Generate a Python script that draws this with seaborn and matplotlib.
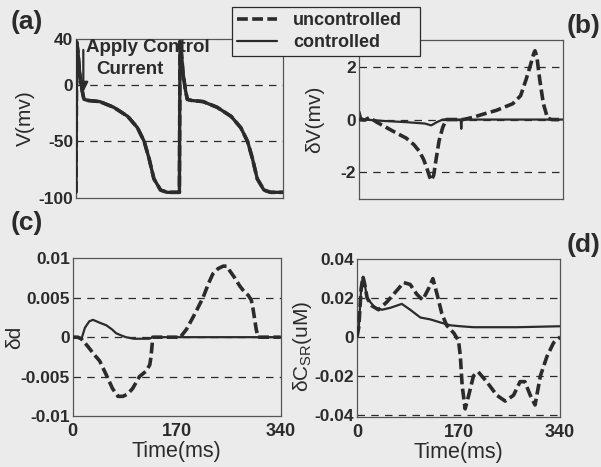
import numpy as np
import pandas as pd
import matplotlib
matplotlib.use('Agg')
import matplotlib.pyplot as plt
import seaborn as sns
from matplotlib.lines import Line2D

# ---- data ----
# (a) action potential, uncontrolled and controlled overlap
t_ap = [0, 1, 3, 6, 10, 13, 20, 39, 62, 85, 101, 112, 120, 128, 139, 150, 169,
        170, 171, 173, 176, 180, 183, 190, 209, 232, 255, 271, 282, 290, 298, 309, 320, 340]
v_ap = [-95, 38, 30, 10, -5, -13, -14, -15, -20, -28, -38, -50, -65, -83, -93, -95, -95,
        -95, 38, 30, 10, -5, -13, -14, -15, -20, -28, -38, -50, -65, -83, -93, -95, -95]

# (b) delta V
t_b_unc = [0, 10, 18, 30, 46, 62, 79, 92, 101, 108, 113, 118, 121, 125, 129, 134, 140, 146,
           160, 174, 190, 207, 230, 257, 270, 279, 287, 292, 294, 297, 302, 308, 315, 322, 340]
v_b_unc = [0, -0.02, 0.08, -0.1, -0.3, -0.5, -0.7, -0.95, -1.2, -1.5, -1.8, -2.15, -2.3, -2.1,
           -1.5, -0.8, -0.3, 0, 0, 0, 0.08, 0.2, 0.35, 0.6, 0.9, 1.5, 2.1, 2.5, 2.6, 2.4, 1.5,
           0.6, 0.05, 0, 0]
t_b_con = [0, 1, 4, 10, 40, 80, 110, 121, 130, 140, 170, 171, 172, 200, 340]
v_b_con = [0, 0.3, 0.05, 0, -0.05, -0.1, -0.15, -0.22, -0.1, 0, 0, -0.35, 0, 0, 0]

# (c) delta d
t_c_unc = [0, 8, 14, 25, 35, 44, 55, 65, 74, 82, 90, 98, 109, 120, 126, 128, 131,
           150, 169, 175, 180, 186, 200, 213, 222, 229, 238, 246, 252, 256, 265, 273,
           280, 287, 292, 295, 300, 303, 340]
v_c_unc = [0, 0, -0.0002, -0.0012, -0.0022, -0.003, -0.0048, -0.0065, -0.0075, -0.0075,
           -0.0072, -0.0065, -0.005, -0.0043, -0.0035, -0.0025, 0,
           0, 0, -0.0001, 0.0004, 0.001, 0.003, 0.005, 0.0068, 0.008, 0.0087, 0.009, 0.009,
           0.0085, 0.0075, 0.0065, 0.0058, 0.0053, 0.0047, 0.0035, 0.001, 0, 0]
t_c_con = [0, 8, 14, 20, 27, 33, 42, 55, 64, 71, 80, 87, 100, 115, 125, 131, 340]
v_c_con = [0, 0, -0.0003, 0.0012, 0.002, 0.0022, 0.0019, 0.0015, 0.001, 0.0005, 0.0002,
           0, -0.0002, -0.0002, -0.0002, 0, 0]

# (d) delta C_SR
t_d_unc = [0, 3, 7, 10, 13, 17, 25, 36, 50, 67, 78, 89, 100, 110, 120, 127, 134, 142,
           150, 162, 170, 173, 176, 181, 187, 195, 203, 217, 234, 248, 262, 273, 281, 290,
           298, 307, 318, 329, 340]
v_d_unc = [0, 0.005, 0.025, 0.031, 0.027, 0.02, 0.016, 0.014, 0.018, 0.024, 0.028, 0.027,
           0.022, 0.019, 0.025, 0.03, 0.022, 0.012, 0.006, 0.002, -0.002, -0.01, -0.025,
           -0.037, -0.03, -0.02, -0.018, -0.023, -0.03, -0.033, -0.03, -0.023, -0.023,
           -0.03, -0.035, -0.02, -0.01, -0.003, 0]
t_d_con = [0, 3, 7, 10, 13, 17, 30, 42, 56, 75, 89, 106, 123, 139, 156, 173, 195, 268, 340]
v_d_con = [0, 0.005, 0.025, 0.031, 0.027, 0.02, 0.015, 0.014, 0.015, 0.017, 0.014, 0.01,
           0.009, 0.0075, 0.006, 0.0055, 0.005, 0.005, 0.0055]

ylims = [(-100, 40), (-3, 3), (-0.01, 0.01), (-0.0412, 0.04)]
yticks = [[-100, -50, 0, 40], [-2, 0, 2], [-0.01, -0.005, 0, 0.005, 0.01],
          [-0.04, -0.02, 0, 0.02, 0.04]]
ytick_labels = [['-100', '-50', '0', '40'], ['-2', '0', '2'],
                ['-0.01', '-0.005', '0', '0.005', '0.01'],
                ['-0.04', '-0.02', '0', '0.02', '0.04']]
grid_vals = [[-50, 0], [-2, 0, 2], [-0.005, 0, 0.005], [-0.04, -0.02, 0, 0.02]]
ylabels = ['V(mv)', 'δV(mv)', 'δd', r'δC$_\mathregular{SR}$(uM)']
xticks = [0, 170, 340]

bg = '#ebebeb'
ink = '#2b2b2b'

sns.set_theme(style='white')
plt.rcParams['font.family'] = ['Liberation Sans', 'DejaVu Sans']
plt.rcParams['mathtext.fontset'] = 'custom'
plt.rcParams['mathtext.rm'] = 'Liberation Sans'
plt.rcParams['mathtext.it'] = 'Liberation Sans'

fig = plt.figure(figsize=(6.01, 4.67), dpi=100, facecolor=bg)
boxes = [[0.1265, 0.576, 0.344, 0.340], [0.597, 0.574, 0.339, 0.340],
         [0.121, 0.109, 0.346, 0.338], [0.594, 0.107, 0.338, 0.338]]
axes = [fig.add_axes(b) for b in boxes]

series = [
    (t_ap, v_ap, t_ap, v_ap),
    (t_b_unc, v_b_unc, t_b_con, v_b_con),
    (t_c_unc, v_c_unc, t_c_con, v_c_con),
    (t_d_unc, v_d_unc, t_d_con, v_d_con),
]

for i, ax in enumerate(axes):
    ax.set_facecolor(bg)
    tu, vu, tc, vc = series[i]
    for g in grid_vals[i]:
        ax.axhline(g, color=ink, lw=0.9, ls=(0, (6, 5)), zorder=1)
    df_c = pd.DataFrame({'t': tc, 'v': vc})
    df_u = pd.DataFrame({'t': tu, 'v': vu})
    sns.lineplot(data=df_u, x='t', y='v', ax=ax, color=ink, lw=2.6,
                 linestyle=(0, (3, 1.2)), estimator=None, sort=False, zorder=3)
    # in (a) both traces coincide, the solid one reads as one thick line
    sns.lineplot(data=df_c, x='t', y='v', ax=ax, color=ink,
                 lw=2.4 if i == 0 else 1.6, estimator=None, sort=False,
                 zorder=4 if i == 0 else 2)
    ax.set_xlim(0, 340)
    ax.set_ylim(*ylims[i])
    ax.set_yticks(yticks[i])
    ax.set_yticklabels(ytick_labels[i], fontsize=12.5, fontweight='bold', color=ink)
    ax.set_xticks(xticks)
    if i < 2:
        ax.set_xticklabels([])
        ax.set_xlabel('')
    else:
        ax.set_xticklabels([str(x) for x in xticks], fontsize=13, fontweight='bold', color=ink)
        ax.set_xlabel('Time(ms)', fontsize=15.5, color=ink, labelpad=1)
    ax.set_ylabel(ylabels[i], fontsize=15, color=ink)
    ax.tick_params(direction='in', length=3, color=ink)
    ax.tick_params(axis='x', pad=5)
    ax.tick_params(axis='y', pad=2)
    for s in ax.spines.values():
        s.set_color('#555555')
        s.set_linewidth(0.9)

axes[0].yaxis.set_label_coords(-0.2, 0.5)
axes[1].yaxis.set_label_coords(-0.17, 0.5)
axes[2].yaxis.set_label_coords(-0.235, 0.5)
axes[3].yaxis.set_label_coords(-0.21, 0.45)

# arrow and label in (a)
axes[0].annotate('', xy=(12, -9), xytext=(12, 33),
                 arrowprops=dict(arrowstyle='-|>', color=ink, lw=1.6,
                                 mutation_scale=14), zorder=6)
axes[0].text(16, 33, 'Apply Control', fontsize=13.5, fontweight='bold', color=ink,
             va='center', ha='left', zorder=6)
axes[0].text(34, 13, 'Current', fontsize=13.5, fontweight='bold', color=ink,
             va='center', ha='left', zorder=6)

# panel letters
for lab, x, y in [('(a)', 0.017, 0.953), ('(b)', 0.942, 0.945),
                  ('(c)', 0.017, 0.523), ('(d)', 0.942, 0.475)]:
    fig.text(x, y, lab, fontsize=19, fontweight='bold', color=ink, va='center', ha='left')

handles = [Line2D([], [], color=ink, lw=2.6, ls=(0, (3, 1.2))),
           Line2D([], [], color=ink, lw=1.6)]
leg = fig.legend(handles, ['uncontrolled', 'controlled'],
                 loc='upper left',
                 bbox_to_anchor=(232 / 601, 1 - 54 / 467, 188 / 601, 47 / 467),
                 mode='expand', borderaxespad=0, frameon=True, fancybox=False,
                 handlelength=2.2, borderpad=0.28, labelspacing=0.28, handletextpad=0.9,
                 prop={'weight': 'bold', 'size': 13})
leg.get_frame().set_edgecolor(ink)
leg.get_frame().set_facecolor(bg)
leg.get_frame().set_linewidth(0.9)
leg.get_frame().set_alpha(1)
for txt in leg.get_texts():
    txt.set_color(ink)

fig.savefig('out.png', dpi=100, facecolor=bg)
